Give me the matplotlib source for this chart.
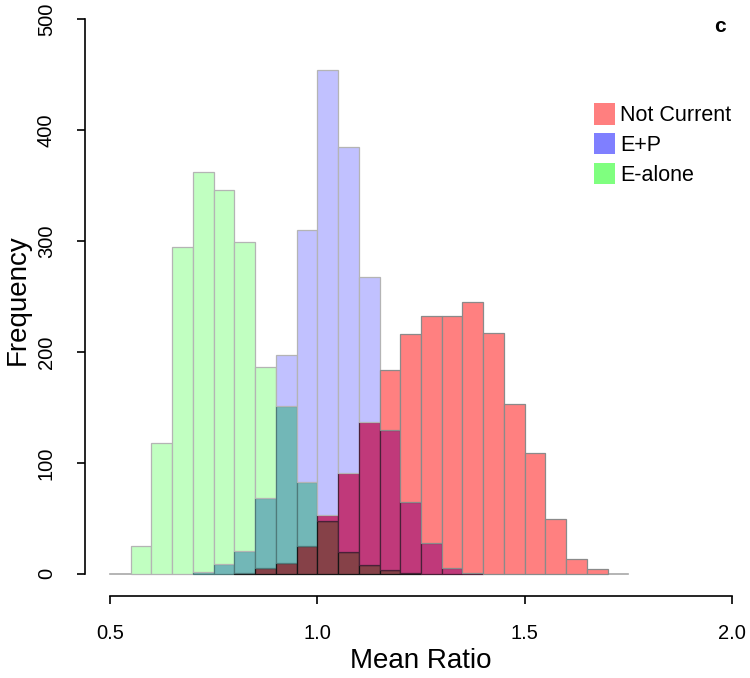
import numpy as np
import matplotlib
matplotlib.use('Agg')
import matplotlib.pyplot as plt
from matplotlib.patches import Patch

plt.rcParams['font.family'] = ['Liberation Sans', 'DejaVu Sans']

# bin edges of the three histograms (width 0.05 from 0.50 to 1.75)
bin_edges = np.round(np.arange(0.50, 1.7501, 0.05), 2)

# counts per bin
not_current = [0, 0, 0, 0, 0, 0, 1, 5, 10, 25, 53, 91, 137, 184, 216, 232, 232, 245, 217, 153, 109, 49, 13, 4, 0]
e_plus_p = [0, 0, 0, 0, 2, 9, 21, 68, 197, 310, 454, 385, 268, 130, 65, 28, 5, 1, 0, 0, 0, 0, 0, 0, 0]
e_alone = [0, 25, 118, 295, 362, 346, 299, 186, 151, 83, 48, 20, 8, 3, 1, 0, 0, 0, 0, 0, 0, 0, 0, 0, 0]

series_names = ['Not Current', 'E+P', 'E-alone']
legend_colors = ['#FF7F7F', '#7F7FFF', '#7FFF7F']

# fill / border colour for each overlap combination (R=red, B=blue, G=green)
fill_cols = {'R': '#FF8080', 'B': '#C1C1FF', 'G': '#C1FFC1',
             'RB': '#C0397A', 'BG': '#72B7B7', 'RG': '#B86048', 'RBG': '#864148'}
edge_cols = {'R': '#8A8A8A', 'B': '#B4B4B4', 'G': '#B4B4B4',
             'RB': '#4A2038', 'BG': '#4F7A7A', 'RG': '#402020', 'RBG': '#151515'}

W, H = 750, 678
fig = plt.figure(figsize=(W / 100, H / 100), dpi=100)
fig.set_facecolor('white')
ax = fig.add_axes([85 / W, (H - 596) / H, (757 - 85) / W, 599 / H])
ax.set_xlim(0.44, 2.06)
ax.set_ylim(-20, 520)

# gray zero line under the histograms
ax.plot([bin_edges[0], bin_edges[-1]], [0, 0], color='#A8A8A8', lw=1.2, zorder=1)

counts = {'R': not_current, 'B': e_plus_p, 'G': e_alone}
for i in range(len(bin_edges) - 1):
    x0 = bin_edges[i]
    vals = {k: counts[k][i] for k in 'RBG'}
    levels = sorted(set([0] + list(vals.values())))
    for lo, hi in zip(levels[:-1], levels[1:]):
        key = ''.join(k for k in 'RBG' if vals[k] >= hi)
        ax.bar(x0, hi - lo, width=0.05, bottom=lo, align='edge',
               color=fill_cols[key], edgecolor=edge_cols[key], linewidth=0.9, zorder=2)

for s in ['top', 'right']:
    ax.spines[s].set_visible(False)
ax.spines['bottom'].set_bounds(0.5, 2.0)
ax.spines['left'].set_bounds(0, 500)
ax.spines['bottom'].set_linewidth(1.2)
ax.spines['left'].set_linewidth(1.2)

ax.set_xticks([0.5, 1.0, 1.5, 2.0])
ax.set_xticklabels(['0.5', '1.0', '1.5', '2.0'])
ax.set_yticks([0, 100, 200, 300, 400, 500])
ax.tick_params(axis='both', direction='out', length=6, width=1.2, labelsize=14.5, colors='black')
ax.tick_params(axis='x', pad=14)
ax.tick_params(axis='y', pad=15)
for lab in ax.get_yticklabels():
    lab.set_rotation(90)
    lab.set_va('center')

fig.text(421 / W, 1 - 661 / H, 'Mean Ratio', ha='center', va='center', fontsize=20)
fig.text(18 / W, 1 - 300 / H, 'Frequency', ha='center', va='center', fontsize=20, rotation=90)
fig.text(720 / W, 1 - 27 / H, 'c', ha='center', va='center', fontsize=15, fontweight='bold')

handles = [Patch(facecolor=c, edgecolor='none') for c in legend_colors]
ax.legend(handles, series_names, loc='upper left', bbox_to_anchor=(0.744, 0.837),
          frameon=False, fontsize=15.5, handlelength=1.0, handleheight=1.15,
          handletextpad=0.25, labelspacing=0.32, borderaxespad=0)

plt.savefig('out.png', dpi=100)
